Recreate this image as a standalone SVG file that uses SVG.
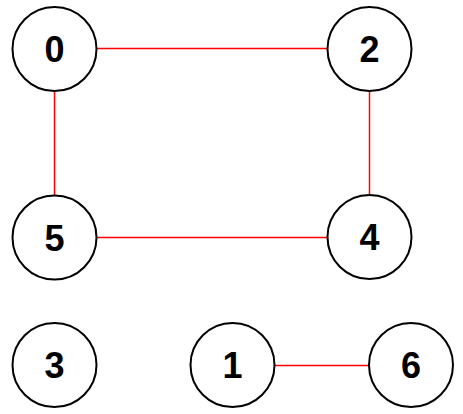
<svg xmlns="http://www.w3.org/2000/svg" width="463" height="414" viewBox="0 0 463 414">
<style>
.n circle{fill:#fff;stroke:#000;stroke-width:2}
.n text{font-family:"Liberation Sans",Arial,sans-serif;font-weight:bold;font-size:36px;text-anchor:middle;fill:#000}
#edges line{stroke:#ff0000;stroke-width:1.5}
</style>
<rect width="463" height="414" fill="#fff"/>
<g id="edges">
<line x1="97" y1="48.5" x2="327" y2="48.5"/>
<line x1="54.5" y1="91" x2="54.5" y2="195"/>
<line x1="369.5" y1="91" x2="369.5" y2="195"/>
<line x1="97" y1="237.5" x2="327" y2="237.5"/>
<line x1="275" y1="365.5" x2="369" y2="365.5"/>
</g>
<g id="node0" class="n"><circle cx="54.5" cy="49" r="42"/><text x="54.5" y="62">0</text></g>
<g id="node2" class="n"><circle cx="369.5" cy="49" r="42"/><text x="369.5" y="62">2</text></g>
<g id="node5" class="n"><circle cx="54.5" cy="237.5" r="42"/><text x="54.5" y="250.5">5</text></g>
<g id="node4" class="n"><circle cx="369.5" cy="237" r="42"/><text x="369.5" y="250">4</text></g>
<g id="node3" class="n"><circle cx="54.5" cy="365" r="42"/><text x="54.5" y="378">3</text></g>
<g id="node1" class="n"><circle cx="232.5" cy="365" r="42"/><text x="232.5" y="378">1</text></g>
<g id="node6" class="n"><circle cx="411" cy="365" r="42"/><text x="411" y="378">6</text></g>
</svg>
